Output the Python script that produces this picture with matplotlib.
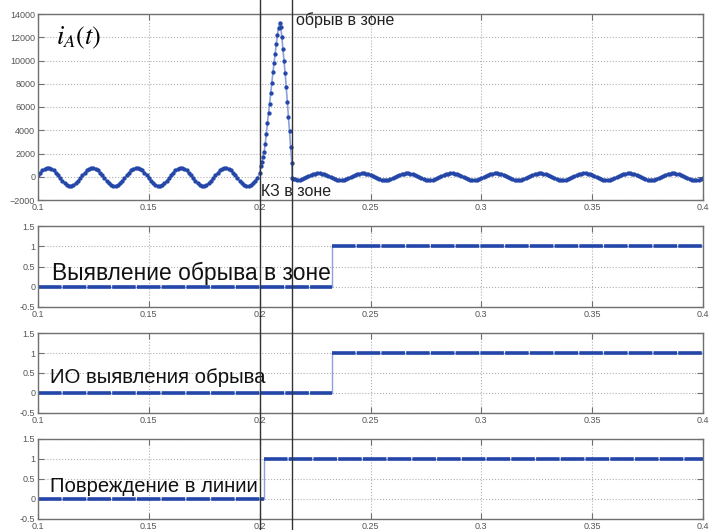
import numpy as np
import matplotlib.pyplot as plt
from matplotlib.lines import Line2D
from matplotlib.transforms import blended_transform_factory

# current i_A(t) before the fault, sampled every 1 ms from 0.100 to 0.199
pre_vals = [
    120, 350, 550, 700, 770, 770, 700, 550, 350, 120, -120, -360, -570, -720, -790, -790, -720, -570, -360, -120,
    120, 350, 550, 700, 770, 770, 700, 550, 350, 120, -120, -360, -570, -720, -790, -790, -720, -570, -360, -120,
    120, 350, 550, 700, 770, 770, 700, 550, 350, 120, -120, -360, -570, -720, -790, -790, -720, -570, -360, -120,
    120, 350, 550, 700, 770, 770, 700, 550, 350, 120, -120, -360, -570, -720, -790, -790, -720, -570, -360, -120,
    120, 350, 550, 700, 770, 770, 700, 550, 350, 120, -120, -360, -570, -720, -790, -800, -730, -570, -360, -120,
]
# short-circuit pulse, 0.5 ms step
fault_t = [0.2000, 0.2005, 0.2010, 0.2015, 0.2020, 0.2025, 0.2030, 0.2035, 0.2040, 0.2045,
           0.2050, 0.2055, 0.2060, 0.2065, 0.2070, 0.2075, 0.2080, 0.2085, 0.2090, 0.2095,
           0.2100, 0.2105, 0.2110, 0.2115, 0.2120, 0.2125, 0.2130, 0.2135, 0.2140, 0.2145, 0.2146]
fault_vals = [300, 900, 1300, 1700, 2100, 2800, 3700, 4600, 5500, 6300,
              7200, 8100, 9000, 9800, 10600, 11400, 12200, 12800, 13200, 12900,
              12000, 11000, 10000, 8900, 7700, 6400, 5100, 3900, 2600, 1200, -150]
# after the break, 1 ms step from 0.215 to 0.400
post_vals = [
    -180, -220, -240, -240, -200, -130, -50,
    50, 140, 210, 270, 300, 300, 270, 210, 140, 50, -50, -140, -210, -270, -300, -300, -270, -210, -140, -50,
    50, 140, 210, 270, 300, 300, 270, 210, 140, 50, -50, -140, -210, -270, -300, -300, -270, -210, -140, -50,
    50, 140, 210, 270, 300, 300, 270, 210, 140, 50, -50, -140, -210, -270, -300, -300, -270, -210, -140, -50,
    50, 140, 210, 270, 300, 300, 270, 210, 140, 50, -50, -140, -210, -270, -300, -300, -270, -210, -140, -50,
    50, 140, 210, 270, 300, 300, 270, 210, 140, 50, -50, -140, -210, -270, -300, -300, -270, -210, -140, -50,
    50, 140, 210, 270, 300, 300, 270, 210, 140, 50, -50, -140, -210, -270, -300, -300, -270, -210, -140, -50,
    50, 140, 210, 270, 300, 300, 270, 210, 140, 50, -50, -140, -210, -270, -300, -300, -270, -210, -140, -50,
    50, 140, 210, 270, 300, 300, 270, 210, 140, 50, -50, -140, -210, -270, -300, -300, -270, -210, -140, -50,
    50, 140, 210, 270, 300, 300, 270, 210, 140, 50, -50, -140, -210, -270, -300, -300, -270, -210, -140,
]

# logic signals: switch time from 0 to 1
step_names = ['Выявление обрыва в зоне', 'ИО выявления обрыва', 'Повреждение в линии']
step_times = [0.2325, 0.2325, 0.2018]
step_label_x = [0.1065, 0.1055, 0.1055]
step_label_y = [0.32, 0.38, 0.3]
step_label_size = [16.4, 14.7, 14.6]

event_times = [0.2, 0.2145]
xticks = [0.1, 0.15, 0.2, 0.25, 0.3, 0.35, 0.4]
xtick_labels = ['0.1', '0.15', '0.2', '0.25', '0.3', '0.35', '0.4']

pre_t = np.round(np.arange(0.100, 0.1995, 0.001), 4)
post_t = np.round(np.arange(0.215, 0.4005, 0.001), 4)
t_all = np.concatenate([pre_t, fault_t, post_t])
i_all = np.concatenate([pre_vals, fault_vals, post_vals])

plt.rcParams['font.family'] = ['Liberation Sans', 'DejaVu Sans']
plt.rcParams['mathtext.fontset'] = 'stix'

line_c = '#8da2dc'
dot_c = '#2346a8'
grey = '#707070'

fig = plt.figure(figsize=(7.18, 5.30), dpi=100)
L, W = 38 / 718, 665 / 718
ax1 = fig.add_axes([L, 1 - 200 / 530, W, 186 / 530])
ax2 = fig.add_axes([L, 1 - 307 / 530, W, 81 / 530])
ax3 = fig.add_axes([L, 1 - 413 / 530, W, 80 / 530])
ax4 = fig.add_axes([L, 1 - 519 / 530, W, 80 / 530])


def style(ax):
    ax.set_xlim(0.1, 0.4)
    ax.set_xticks(xticks)
    ax.set_xticklabels(xtick_labels)
    ax.grid(True, linestyle=':', color='#b0b0b0', linewidth=0.8)
    ax.tick_params(direction='in', top=True, right=True, labelsize=6.5,
                   labelcolor='#555555', color=grey, length=4, pad=2)
    for s in ax.spines.values():
        s.set_color(grey)
        s.set_linewidth(1.0)


# top panel: current
ax1.plot(t_all, i_all, color=line_c, lw=1.2, marker='.', ms=4.2,
         mfc=dot_c, mec=dot_c)
ax1.set_ylim(-2000, 14000)
ax1.set_yticks(range(-2000, 14001, 2000))
style(ax1)
ax1.text(0.027, 0.87, r'$i_A(t)$', transform=ax1.transAxes, fontsize=19,
         ha='left', va='center')
ax1.text(0.2165, 13450, 'обрыв в зоне', fontsize=11.5, color='#222222',
         ha='left', va='center')
ax1.text(0.2008, -1250, 'КЗ в зоне', fontsize=11.5, color='#222222',
         ha='left', va='center')

# logic panels
for ax, name, ts, lx, ly, fs in zip([ax2, ax3, ax4], step_names, step_times,
                                    step_label_x, step_label_y, step_label_size):
    ax.plot([0.1, ts, ts, 0.4], [0, 0, 1, 1], color=line_c, lw=1.0)
    ax.plot([0.1, ts], [0, 0], color=dot_c, lw=2.6, dashes=(6.5, 0.35))
    ax.plot([ts, 0.4], [1, 1], color=dot_c, lw=2.6, dashes=(6.5, 0.35))
    ax.set_ylim(-0.5, 1.5)
    ax.set_yticks([-0.5, 0, 0.5, 1, 1.5])
    ax.set_yticklabels(['-0.5', '0', '0.5', '1', '1.5'])
    style(ax)
    ax.text(lx, ly, name, fontsize=fs, color='#111111',
            ha='left', va='center')

# event markers through the whole figure
tr = blended_transform_factory(ax1.transData, fig.transFigure)
for te in event_times:
    fig.add_artist(Line2D([te, te], [0, 1], transform=tr, color='#333333', lw=1.0))

fig.savefig('out.png', dpi=100)
